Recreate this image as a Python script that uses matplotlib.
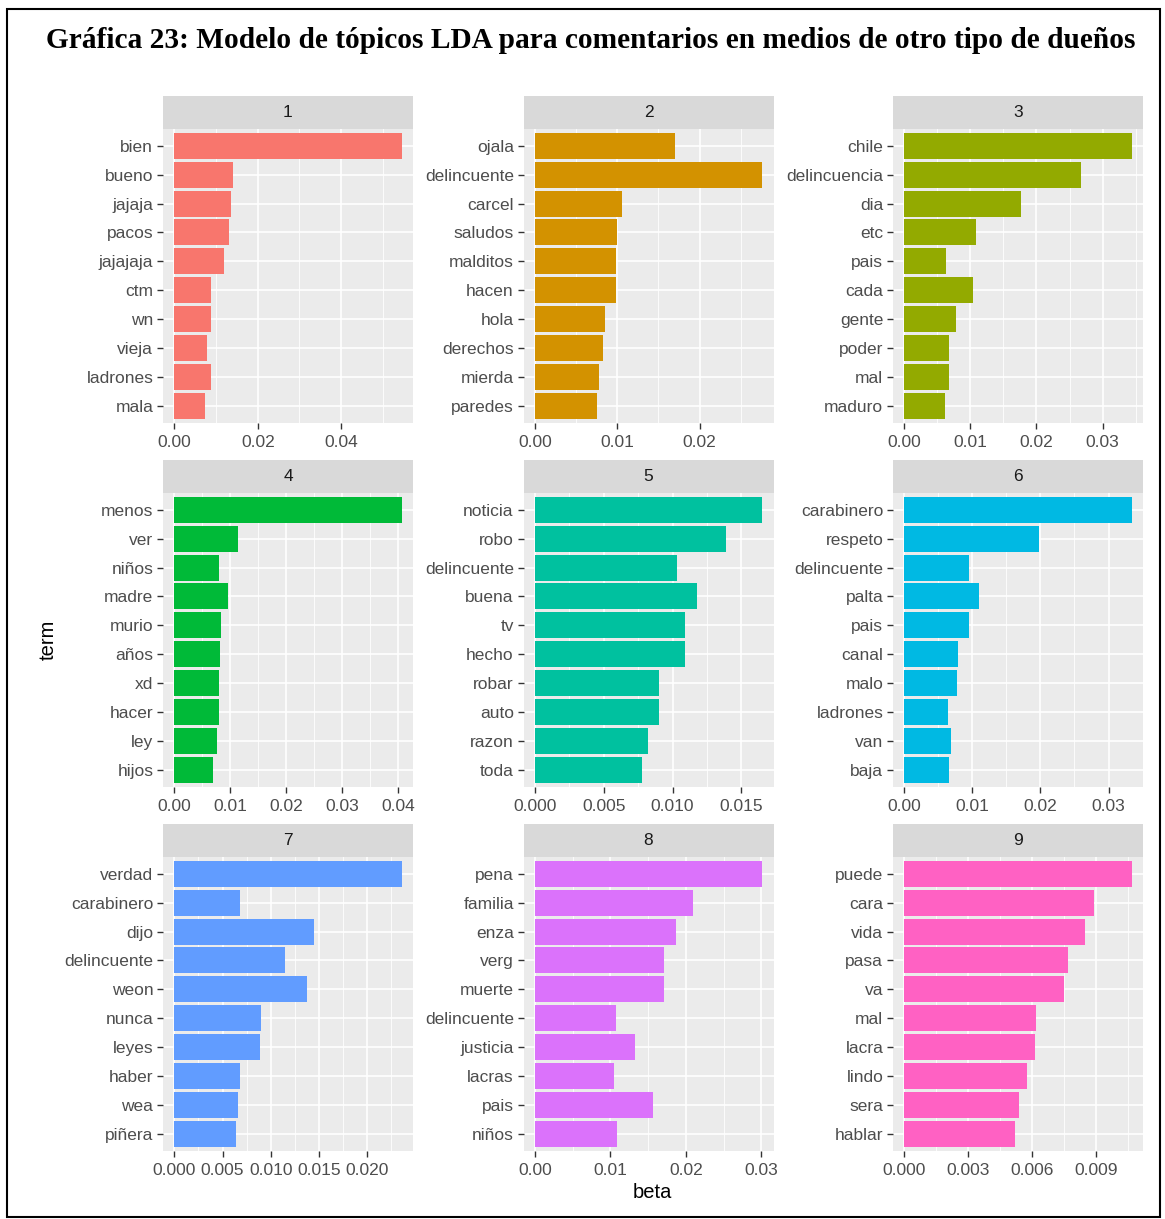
import numpy as np
import matplotlib.pyplot as plt
from matplotlib.patches import Rectangle

# topic terms (top to bottom) and beta values
terms_1 = ['bien', 'bueno', 'jajaja', 'pacos', 'jajajaja', 'ctm', 'wn', 'vieja', 'ladrones', 'mala']
beta_1 = [0.0545, 0.0141, 0.0135, 0.0131, 0.0118, 0.0088, 0.0088, 0.0078, 0.0088, 0.0074]

terms_2 = ['ojala', 'delincuente', 'carcel', 'saludos', 'malditos', 'hacen', 'hola', 'derechos', 'mierda', 'paredes']
beta_2 = [0.0170, 0.0276, 0.0106, 0.0100, 0.0099, 0.0099, 0.0085, 0.0083, 0.0078, 0.0075]

terms_3 = ['chile', 'delincuencia', 'dia', 'etc', 'pais', 'cada', 'gente', 'poder', 'mal', 'maduro']
beta_3 = [0.0344, 0.0267, 0.0176, 0.0108, 0.0063, 0.0104, 0.0078, 0.0068, 0.0068, 0.0061]

terms_4 = ['menos', 'ver', 'niños', 'madre', 'murio', 'años', 'xd', 'hacer', 'ley', 'hijos']
beta_4 = [0.0406, 0.0114, 0.0079, 0.0095, 0.0084, 0.0082, 0.0079, 0.0079, 0.0077, 0.0069]

terms_5 = ['noticia', 'robo', 'delincuente', 'buena', 'tv', 'hecho', 'robar', 'auto', 'razon', 'toda']
beta_5 = [0.0165, 0.0139, 0.0103, 0.0118, 0.0109, 0.0109, 0.0090, 0.0090, 0.0082, 0.0078]

terms_6 = ['carabinero', 'respeto', 'delincuente', 'palta', 'pais', 'canal', 'malo', 'ladrones', 'van', 'baja']
beta_6 = [0.0334, 0.0198, 0.0095, 0.0109, 0.0095, 0.0079, 0.0077, 0.0064, 0.0068, 0.0066]

terms_7 = ['verdad', 'carabinero', 'dijo', 'delincuente', 'weon', 'nunca', 'leyes', 'haber', 'wea', 'piñera']
beta_7 = [0.0236, 0.0068, 0.0145, 0.0115, 0.0138, 0.0090, 0.0089, 0.0068, 0.0066, 0.0064]

terms_8 = ['pena', 'familia', 'enza', 'verg', 'muerte', 'delincuente', 'justicia', 'lacras', 'pais', 'niños']
beta_8 = [0.0301, 0.0209, 0.0187, 0.0171, 0.0171, 0.0107, 0.0133, 0.0105, 0.0156, 0.0109]

terms_9 = ['puede', 'cara', 'vida', 'pasa', 'va', 'mal', 'lacra', 'lindo', 'sera', 'hablar']
beta_9 = [0.01067, 0.00888, 0.00849, 0.0077, 0.00749, 0.00618, 0.00612, 0.00578, 0.00539, 0.0052]

ticks_1 = [0.0, 0.02, 0.04]
ticks_2 = [0.0, 0.01, 0.02]
ticks_3 = [0.0, 0.01, 0.02, 0.03]
ticks_4 = [0.0, 0.01, 0.02, 0.03, 0.04]
ticks_5 = [0.0, 0.005, 0.010, 0.015]
ticks_6 = [0.0, 0.01, 0.02, 0.03]
ticks_7 = [0.0, 0.005, 0.010, 0.015, 0.020]
ticks_8 = [0.0, 0.01, 0.02, 0.03]
ticks_9 = [0.0, 0.003, 0.006, 0.009]

colors = ['#F8766D', '#D39200', '#93AA00', '#00BA38', '#00C19F',
          '#00B9E3', '#619CFF', '#DB72FB', '#FF61C3']

topics = [(terms_1, beta_1, ticks_1, 2), (terms_2, beta_2, ticks_2, 2),
          (terms_3, beta_3, ticks_3, 2), (terms_4, beta_4, ticks_4, 2),
          (terms_5, beta_5, ticks_5, 3), (terms_6, beta_6, ticks_6, 2),
          (terms_7, beta_7, ticks_7, 3), (terms_8, beta_8, ticks_8, 2),
          (terms_9, beta_9, ticks_9, 3)]

plt.rcParams['font.family'] = ['Liberation Sans', 'DejaVu Sans']

W, H = 1165, 1219
fig = plt.figure(figsize=(W / 100, H / 100), dpi=100)
fig.patch.set_facecolor('white')


def px_axes(x0, y0, x1, y1):
    # pixel box (top-left origin) -> figure axes
    return fig.add_axes([x0 / W, 1 - y1 / H, (x1 - x0) / W, (y1 - y0) / H])


# outer frame and title
fig.patches.append(Rectangle((7 / W, 2 / H), 1153 / W, 1208 / H, transform=fig.transFigure,
                             fill=False, edgecolor='black', linewidth=1.5))
fig.text(591 / W, 1 - 40 / H, 'Gráfica 23: Modelo de tópicos LDA para comentarios en medios de otro tipo de dueños',
         family='Liberation Serif', fontweight='bold', fontsize=21.2, ha='center', va='center')

col_left = [163, 523.5, 893]
row_top = [96, 460, 824]
pw, strip_h, ph = 250, 32.5, 294.5

for k, (terms, beta, ticks, dec) in enumerate(topics):
    r, c = divmod(k, 3)
    x0 = col_left[c]
    y0 = row_top[r]

    # strip
    sax = px_axes(x0, y0, x0 + pw, y0 + strip_h)
    sax.set_facecolor('#D9D9D9')
    sax.set_xticks([])
    sax.set_yticks([])
    for s in sax.spines.values():
        s.set_visible(False)
    sax.text(0.5, 0.5, str(k + 1), ha='center', va='center', fontsize=12.5, color='#1A1A1A',
             transform=sax.transAxes)

    ax = px_axes(x0, y0 + strip_h, x0 + pw, y0 + strip_h + ph)
    ax.set_facecolor('#EBEBEB')
    pos = np.arange(len(terms))
    ax.barh(pos, beta, height=0.9, color=colors[k], zorder=3)
    mx = max(beta)
    ax.set_xlim(-0.05 * mx, 1.05 * mx)
    ax.set_ylim(len(terms) - 0.4, -0.6)
    ax.set_yticks(pos)
    ax.set_yticklabels(terms)
    ax.set_xticks(ticks)
    ax.set_xticklabels([f'{t:.{dec}f}' for t in ticks])
    step = ticks[1] - ticks[0]
    ax.set_xticks(np.arange(step / 2, 1.05 * mx, step), minor=True)
    ax.grid(True, which='major', color='white', linewidth=1.2, zorder=0)
    ax.grid(True, which='minor', axis='x', color='white', linewidth=0.6, zorder=0)
    ax.set_axisbelow(True)
    ax.tick_params(which='major', length=4, width=1, color='#333333', labelsize=12.5,
                   labelcolor='#4D4D4D')
    ax.tick_params(axis='x', pad=4.5)
    ax.tick_params(axis='y', pad=3)
    ax.tick_params(which='minor', length=0)
    for s in ax.spines.values():
        s.set_visible(False)

fig.text(48 / W, 1 - 640 / H, 'term', rotation=90, ha='center', va='center', fontsize=14.5)
fig.text(652 / W, 1 - 1193 / H, 'beta', ha='center', va='center', fontsize=14.5)

plt.savefig('out.png', dpi=100)
